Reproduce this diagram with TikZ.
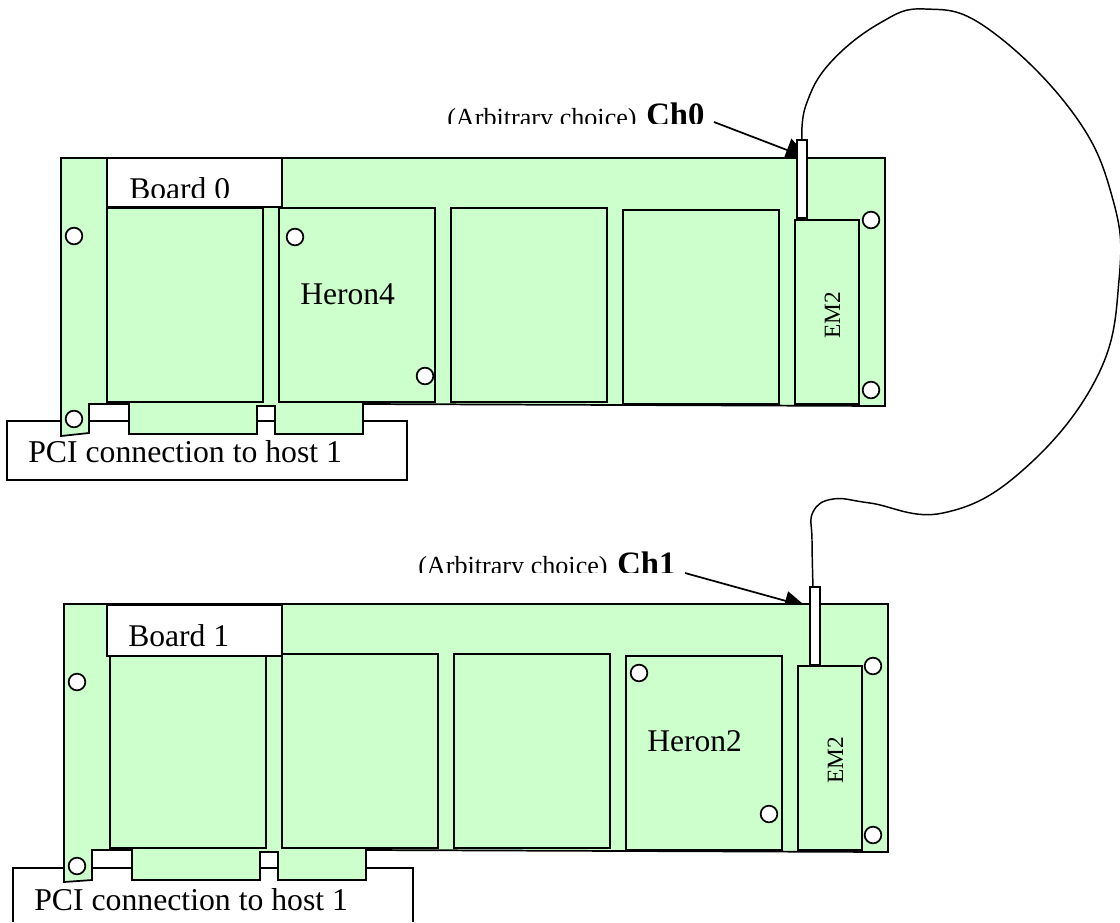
\documentclass[tikz,border=0pt]{standalone}
\usepackage{fontspec}
\setmainfont{Liberation Serif}
\usetikzlibrary{arrows.meta}
\definecolor{pcb}{HTML}{CCFFCC}
\tikzset{
  ln/.style={draw=black,line width=1.3pt,line join=miter},
  part/.style={ln,fill=pcb},
  wbox/.style={ln,fill=white},
  hole/.style={circle,draw=black,line width=1.3pt,fill=white,minimum size=12.5pt,inner sep=0pt},
  plug/.style={rectangle,draw=black,line width=1.3pt,fill=white,minimum width=7.5pt,minimum height=58.5pt,inner sep=0pt},
  txt/.style={anchor=base west,inner sep=0pt,font=\fontsize{23.7}{24}\selectfont},
  pcit/.style={anchor=base west,inner sep=0pt,font=\fontsize{23.8}{24}\selectfont},
  arb/.style={anchor=base west,inner sep=0pt,font=\fontsize{19.6}{20}\selectfont},
  chan/.style={anchor=base west,inner sep=0pt,font=\fontsize{24.5}{25}\selectfont\bfseries},
  emt/.style={rotate=90,anchor=base,inner sep=0pt,font=\fontsize{17.5}{18}\selectfont},
  wire/.style={draw=black,line width=1.1pt,line join=round},
  calla/.style={draw=black,line width=1.3pt,-{Triangle[length=18pt,width=18pt]}},
  callb/.style={draw=black,line width=1.3pt,-{Triangle[length=16pt,width=14.5pt]}},
}
\begin{document}
\begin{tikzpicture}[x=.75pt,y=-.75pt]
\useasboundingbox (0,0) rectangle (1120,922);
% callouts (arrow heads are covered by the boards)
\coordinate (c0s) at (714,122);
\coordinate (c0t) at (809.4,158.6);
\coordinate (c1s) at (685,573);
\coordinate (c1t) at (806,606.5);
\draw[calla] (c0s) -- (c0t);
\draw[callb] (c1s) -- (c1t);
% Board 0
\draw[wbox] (7,421) rectangle (407,480);
\draw[part] (61,158) -- (885,158) -- (885,406) -- (363,404) -- (363,434) -- (275,434) -- (275,406) -- (257,406) -- (257,434) -- (129,434) -- (129,404) -- (89,404) -- (89,433) -- (61,436) -- cycle;
\draw[part] (107,208) rectangle (263,402);
\draw[part] (279,208) rectangle (435,402);
\draw[part] (451,208) rectangle (607,402);
\draw[part] (623,210) rectangle (779,404);
\draw[part] (795,220) rectangle (859,404);
\draw[wbox] (107,158) rectangle (282,207);
\begin{scope}
\clip (107,160) rectangle (282,197);
\node[txt] (b0) at (129,199) {Board 0};
\end{scope}
\node[txt] (h4) at (300,304) {Heron4};
\node[pcit] (p0) at (28,462) {PCI connection to host 1};
\node[emt] (e0) at (840,315) {EM2};
\node[hole] (h01) at (74,236) {};
\node[hole] (h02) at (74,419) {};
\node[hole] (h03) at (295,237) {};
\node[hole] (h04) at (425,376) {};
\node[hole] (h05) at (871,220) {};
\node[hole] (h06) at (871,390) {};
\node[plug] (ch0) at (802,179) {};
\begin{scope}
\clip (440,90) rectangle (710,123);
\node[arb] (a0) at (447,126) {(Arbitrary choice)};
\node[chan] (n0) at (646,125) {Ch0};
\end{scope}
% Board 1
\draw[wbox] (13,922) -- (13,868) -- (413,868) -- (413,922);
\draw[part] (64,604) -- (888,604) -- (888,852) -- (366,850) -- (366,880) -- (278,880) -- (278,852) -- (260,852) -- (260,880) -- (132,880) -- (132,850) -- (92,850) -- (92,880) -- (64,882) -- cycle;
\draw[part] (110,656) rectangle (266,848);
\draw[part] (282,654) rectangle (438,848);
\draw[part] (454,654) rectangle (610,848);
\draw[part] (626,656) rectangle (782,850);
\draw[part] (798,666) rectangle (862,850);
\draw[wbox] (107,605) rectangle (282,656);
\node[txt] (b1) at (128,646) {Board 1};
\node[txt] (h2) at (647,751) {Heron2};
\node[pcit] (p1) at (34,910) {PCI connection to host 1};
\node[emt] (e1) at (843,760) {EM2};
\node[hole] (h11) at (77,682) {};
\node[hole] (h12) at (77,866) {};
\node[hole] (h13) at (639,673) {};
\node[hole] (h14) at (769,814) {};
\node[hole] (h15) at (873,666) {};
\node[hole] (h16) at (873,835) {};
\node[plug] (ch1) at (815,626) {};
\begin{scope}
\clip (410,540) rectangle (680,572);
\node[arb] (a1) at (418,574) {(Arbitrary choice)};
\node[chan] (n1) at (617,574.5) {Ch1};
\end{scope}
% cable
\coordinate (w1) at (813,587);
\draw[wire] plot[smooth,tension=.7] coordinates {(ch0.north) (806,105) (830,63) (880,23) (925,9) (987,28) (1073,113) (1113,200) (1119,280) (1097,377) (1023,470) (943,513) (870,503) (833,499) (813,512) (812,540) (w1)};
\end{tikzpicture}
\end{document}
